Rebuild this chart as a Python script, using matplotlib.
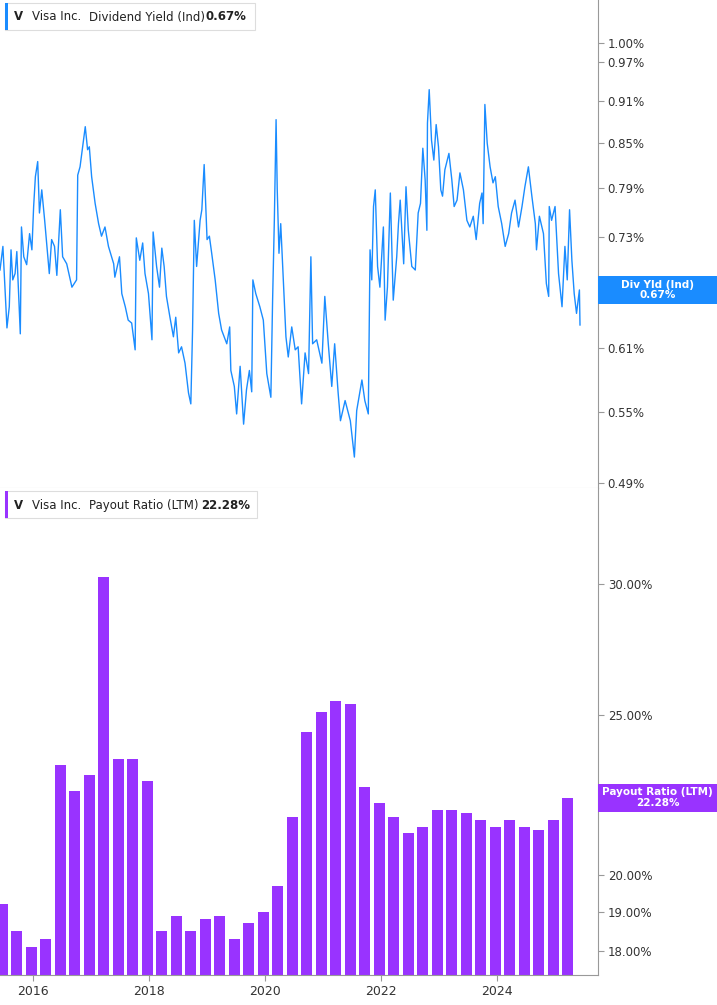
import numpy as np
import matplotlib
matplotlib.use("Agg")
import matplotlib.pyplot as plt
from matplotlib.patches import Rectangle
from matplotlib.ticker import FixedLocator, NullLocator, NullFormatter

BLUE = "#1a8cff"
PURPLE = "#9933ff"

# dividend yield (%): decimal year, yield
yld_year = [2015.43, 2015.48, 2015.52, 2015.55, 2015.59, 2015.62, 2015.65, 2015.69, 2015.72, 2015.78,
            2015.80, 2015.84, 2015.89, 2015.94, 2015.98, 2016.01, 2016.04, 2016.08, 2016.11, 2016.15,
            2016.20, 2016.24, 2016.28, 2016.32, 2016.37, 2016.41, 2016.47, 2016.51, 2016.58, 2016.67,
            2016.75, 2016.77, 2016.81, 2016.90, 2016.94, 2016.97, 2017.01, 2017.07, 2017.13, 2017.18,
            2017.24, 2017.30, 2017.39, 2017.41, 2017.49, 2017.53, 2017.59, 2017.64, 2017.70, 2017.76,
            2017.78, 2017.84, 2017.89, 2017.93, 2017.99, 2018.05, 2018.07, 2018.13, 2018.18, 2018.22,
            2018.26, 2018.30, 2018.36, 2018.42, 2018.46, 2018.51, 2018.56, 2018.62, 2018.68, 2018.72,
            2018.75, 2018.78, 2018.82, 2018.88, 2018.91, 2018.95, 2019.00, 2019.04, 2019.08, 2019.14,
            2019.20, 2019.25, 2019.34, 2019.39, 2019.41, 2019.47, 2019.51, 2019.57, 2019.63, 2019.68,
            2019.73, 2019.77, 2019.79, 2019.84, 2019.91, 2019.97, 2020.03, 2020.10, 2020.13, 2020.16,
            2020.19, 2020.21, 2020.24, 2020.27, 2020.32, 2020.36, 2020.40, 2020.46, 2020.52, 2020.57,
            2020.63, 2020.69, 2020.75, 2020.79, 2020.82, 2020.89, 2020.98, 2021.03, 2021.09, 2021.15,
            2021.20, 2021.26, 2021.30, 2021.38, 2021.47, 2021.54, 2021.58, 2021.67, 2021.72, 2021.78,
            2021.81, 2021.84, 2021.87, 2021.90, 2021.94, 2021.98, 2022.04, 2022.07, 2022.11, 2022.16,
            2022.21, 2022.27, 2022.30, 2022.33, 2022.39, 2022.43, 2022.47, 2022.53, 2022.59, 2022.64,
            2022.68, 2022.72, 2022.76, 2022.79, 2022.80, 2022.83, 2022.87, 2022.91, 2022.95, 2022.99,
            2023.03, 2023.06, 2023.10, 2023.17, 2023.22, 2023.26, 2023.31, 2023.36, 2023.42, 2023.48,
            2023.53, 2023.59, 2023.64, 2023.70, 2023.74, 2023.76, 2023.79, 2023.83, 2023.88, 2023.93,
            2023.97, 2024.02, 2024.08, 2024.14, 2024.20, 2024.25, 2024.31, 2024.37, 2024.43, 2024.48,
            2024.54, 2024.60, 2024.66, 2024.68, 2024.73, 2024.80, 2024.85, 2024.89, 2024.90, 2024.94,
            2025.00, 2025.06, 2025.12, 2025.17, 2025.21, 2025.25, 2025.29, 2025.33, 2025.37, 2025.42,
            2025.43]
yld_val = [0.692, 0.719, 0.666, 0.630, 0.652, 0.715, 0.681, 0.688, 0.713, 0.624,
           0.742, 0.707, 0.698, 0.734, 0.715, 0.767, 0.805, 0.825, 0.759, 0.788,
           0.750, 0.719, 0.688, 0.727, 0.719, 0.686, 0.763, 0.707, 0.699, 0.673,
           0.681, 0.807, 0.818, 0.873, 0.841, 0.845, 0.805, 0.771, 0.746, 0.731,
           0.742, 0.719, 0.699, 0.684, 0.707, 0.666, 0.652, 0.638, 0.635, 0.608,
           0.729, 0.703, 0.723, 0.688, 0.666, 0.618, 0.736, 0.696, 0.673, 0.717,
           0.696, 0.663, 0.641, 0.621, 0.641, 0.605, 0.611, 0.595, 0.567, 0.557,
           0.628, 0.750, 0.696, 0.750, 0.763, 0.821, 0.727, 0.731, 0.711, 0.681,
           0.645, 0.628, 0.614, 0.631, 0.588, 0.573, 0.548, 0.592, 0.539, 0.570,
           0.588, 0.568, 0.681, 0.666, 0.652, 0.638, 0.585, 0.563, 0.659, 0.750,
           0.883, 0.788, 0.711, 0.746, 0.673, 0.621, 0.601, 0.631, 0.608, 0.611,
           0.557, 0.605, 0.585, 0.707, 0.614, 0.618, 0.595, 0.663, 0.614, 0.573,
           0.614, 0.567, 0.542, 0.560, 0.542, 0.511, 0.551, 0.579, 0.560, 0.548,
           0.715, 0.681, 0.767, 0.788, 0.696, 0.673, 0.742, 0.638, 0.673, 0.784,
           0.659, 0.707, 0.746, 0.775, 0.699, 0.792, 0.738, 0.696, 0.692, 0.759,
           0.771, 0.843, 0.801, 0.738, 0.878, 0.927, 0.854, 0.827, 0.876, 0.845,
           0.788, 0.780, 0.814, 0.836, 0.801, 0.767, 0.775, 0.810, 0.788, 0.750,
           0.742, 0.755, 0.727, 0.771, 0.784, 0.746, 0.905, 0.850, 0.818, 0.797,
           0.805, 0.767, 0.746, 0.719, 0.734, 0.759, 0.775, 0.742, 0.767, 0.792,
           0.818, 0.780, 0.746, 0.715, 0.755, 0.734, 0.677, 0.663, 0.767, 0.750,
           0.767, 0.688, 0.652, 0.719, 0.681, 0.763, 0.703, 0.666, 0.645, 0.670,
           0.633]
yld_last = 0.67

# payout ratio (LTM, %), quarterly
pay_year = [2015.47 + 0.25 * i for i in range(40)]
pay_val = [19.2, 18.5, 18.1, 18.3, 23.3, 22.5, 23.0, 30.3, 23.5, 23.5,
           22.8, 18.5, 18.9, 18.5, 18.8, 18.9, 18.3, 18.7, 19.0, 19.7,
           21.7, 24.4, 25.1, 25.5, 25.4, 22.6, 22.1, 21.7, 21.2, 21.4,
           21.9, 21.9, 21.8, 21.6, 21.4, 21.6, 21.4, 21.3, 21.6, 22.28]

yld_ticks = [0.49, 0.55, 0.61, 0.73, 0.79, 0.85, 0.91, 0.97, 1.00]
pay_ticks = [18, 19, 20, 25, 30]
year_ticks = [2016, 2018, 2020, 2022, 2024]

fig = plt.figure(figsize=(7.17, 10.05), dpi=100)
W = 598 / 717
ax1 = fig.add_axes([0, 1 - 488 / 1005, W, 488 / 1005])
ax2 = fig.add_axes([0, 1 - 975 / 1005, W, 487 / 1005])

xlim = (2015.43, 2015.43 + 598 / 58)

ax1.plot(yld_year, yld_val, color=BLUE, lw=1.0)
ax1.set_yscale("log")
ax1.set_ylim(0.486, 1.072)
ax2.bar(pay_year, [v - 17.0 for v in pay_val], bottom=17.0, width=0.19, color=PURPLE)
ax2.set_yscale("log")
ax2.set_ylim(17.4, 34.3)

for ax, ticks in ((ax1, yld_ticks), (ax2, pay_ticks)):
    ax.set_xlim(*xlim)
    ax.yaxis.tick_right()
    ax.yaxis.set_major_locator(FixedLocator(ticks))
    ax.yaxis.set_minor_locator(NullLocator())
    ax.yaxis.set_minor_formatter(NullFormatter())
    ax.set_yticklabels([f"{t:.2f}%" for t in ticks])
    ax.tick_params(axis="y", length=4, color="#999999", labelsize=8.5, labelcolor="#333333", pad=3)
    for s in ("top", "left"):
        ax.spines[s].set_visible(False)
    ax.spines["right"].set_color("#999999")
    ax.spines["bottom"].set_color("#cccccc")

ax1.set_xticks([])
ax2.set_xticks(year_ticks)
ax2.set_xticklabels([str(y) for y in year_ticks])
ax2.tick_params(axis="x", length=4, color="#999999", labelsize=9, labelcolor="#333333")
ax2.spines["bottom"].set_color("#999999")


def fx(px):
    return px / 717


def fy(py):
    return 1 - py / 1005


# legend boxes (figure pixel layout)
def legend(top, color, name, val, x_name, x_val, box_w):
    fig.patches.append(Rectangle((fx(5), fy(top + 27)), fx(box_w), 27 / 1005, transform=fig.transFigure,
                                 fc="white", ec="#dddddd", lw=0.8))
    fig.patches.append(Rectangle((fx(5), fy(top + 27)), fx(3), 27 / 1005, transform=fig.transFigure,
                                 fc=color, ec="none"))
    yc = fy(top + 14)
    kw = dict(fontsize=8.5, va="center", color="#222222")
    fig.text(fx(14), yc, "V", fontweight="bold", **kw)
    fig.text(fx(32), yc, "Visa Inc.", **kw)
    fig.text(fx(x_name), yc, name, **kw)
    fig.text(fx(x_val), yc, val, fontweight="bold", **kw)


legend(3, BLUE, "Dividend Yield (Ind)", "0.67%", 89, 205, 250)
legend(491, PURPLE, "Payout Ratio (LTM)", "22.28%", 89, 201, 252)


# right-side value badges
def badge(ax, value, label, color):
    yf = fig.transFigure.inverted().transform(ax.transData.transform((xlim[0], value)))[1]
    h = 28 / 1005
    fig.patches.append(Rectangle((W, yf - h / 2), 1 - W, h, transform=fig.transFigure,
                                 fc=color, ec="none"))
    fig.text((W + 1) / 2, yf, label, ha="center", va="center", fontsize=7.5,
             fontweight="bold", color="white", linespacing=1.05)


badge(ax1, yld_last, "Div Yld (Ind)\n0.67%", BLUE)
badge(ax2, pay_val[-1], "Payout Ratio (LTM)\n22.28%", PURPLE)

fig.savefig("out.png", dpi=100)
